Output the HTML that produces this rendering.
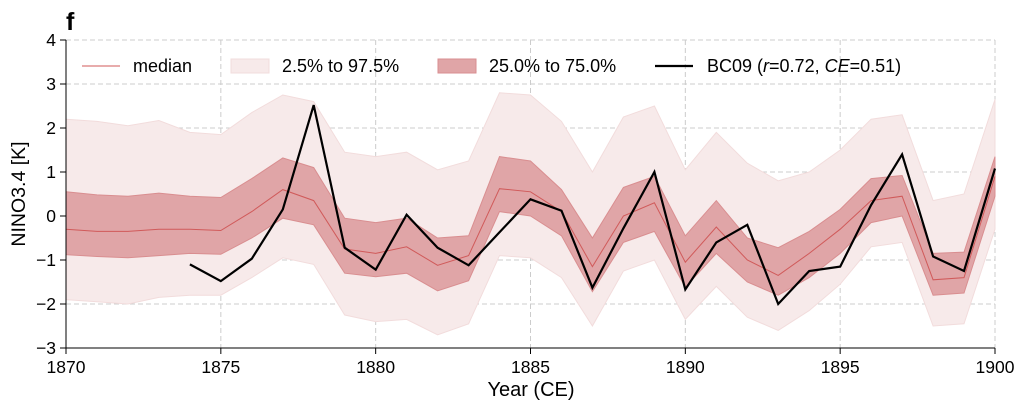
<!DOCTYPE html>
<html><head><meta charset="utf-8"><style>
body{margin:0;background:#fff}
svg{display:block;font-family:"Liberation Sans",Arial,sans-serif}
</style></head><body>
<svg id="s" width="1025" height="409" xmlns="http://www.w3.org/2000/svg"></svg>
<script>
const X=y=>66+(y-1870)*929/30, Y=v=>216-v*44;
const med=[-0.3,-0.35,-0.35,-0.3,-0.3,-0.33,0.1,0.6,0.35,-0.75,-0.85,-0.7,-1.12,-0.9,0.62,0.55,0.1,-1.15,0.0,0.3,-1.05,-0.25,-1.0,-1.35,-0.85,-0.3,0.35,0.45,-1.45,-1.4,0.9];
const q3=[0.55,0.48,0.45,0.52,0.45,0.42,0.85,1.32,1.1,-0.05,-0.15,-0.05,-0.5,-0.45,1.35,1.25,0.6,-0.5,0.65,0.9,-0.45,0.35,-0.5,-0.72,-0.35,0.15,0.85,0.92,-0.85,-0.82,1.35];
const q1=[-0.88,-0.92,-0.95,-0.9,-0.85,-0.87,-0.5,-0.05,-0.2,-1.3,-1.38,-1.3,-1.7,-1.47,0.1,0,-0.45,-1.72,-0.6,-0.35,-1.62,-0.85,-1.5,-1.8,-1.4,-0.85,-0.15,0,-1.8,-1.75,0.45];
const hi=[2.2,2.15,2.05,2.17,1.9,1.85,2.35,2.75,2.6,1.45,1.35,1.45,1.05,1.25,2.8,2.75,2.15,1.0,2.25,2.5,1.05,1.9,1.2,0.8,1.0,1.5,2.2,2.3,0.35,0.5,2.65];
const lo=[-1.9,-1.95,-2.0,-1.85,-1.8,-1.8,-1.4,-0.95,-1.1,-2.25,-2.4,-2.35,-2.7,-2.45,-0.9,-0.95,-1.4,-2.5,-1.25,-1.0,-2.35,-1.6,-2.3,-2.6,-2.15,-1.55,-0.7,-0.6,-2.5,-2.45,-0.3];
const bc=[-1.1,-1.48,-0.97,0.15,2.52,-0.72,-1.22,0.03,-0.72,-1.12,-0.37,0.38,0.12,-1.63,-0.28,1.0,-1.67,-0.6,-0.2,-2.0,-1.25,-1.15,0.25,1.4,-0.92,-1.25,1.08];
const pts=(a,s)=>a.map((v,i)=>X(s+i).toFixed(1)+','+Y(v).toFixed(1));
const band=(u,l)=>'M'+pts(u,1870).join('L')+'L'+pts(l,1870).reverse().join('L')+'Z';
let h='';
for(let v=-3;v<=4;v++)h+=`<line x1="66" x2="995" y1="${Y(v)}" y2="${Y(v)}" stroke="#ccc" stroke-dasharray="5,3"/>`;
for(let y=1870;y<=1900;y+=5)h+=`<line y1="40" y2="348" x1="${X(y)}" x2="${X(y)}" stroke="#ccc" stroke-dasharray="5,3"/>`;
h+=`<path d="${band(hi,lo)}" fill="#f7eaea" stroke="#f2dcdc"/>`;
h+=`<path d="${band(q3,q1)}" fill="#e0a5a7" stroke="#d98e90"/>`;
h+=`<polyline points="${pts(med,1870).join(' ')}" fill="none" stroke="#d05a5a" stroke-width="1"/>`;
h+=`<polyline points="${pts(bc,1874).join(' ')}" fill="none" stroke="#000" stroke-width="2.2"/>`;
h+=`<line x1="66" x2="66" y1="40" y2="348" stroke="#000"/><line x1="66" x2="995" y1="348" y2="348" stroke="#000"/>`;
for(let v=-3;v<=4;v++)h+=`<line x1="60" x2="66" y1="${Y(v)}" y2="${Y(v)}" stroke="#000"/><text x="56" y="${Y(v)+6}" font-size="17.5" text-anchor="end">${v<0?'\u2212'+(-v):v}</text>`;
for(let y=1870;y<=1900;y+=5)h+=`<line y1="348" y2="354" x1="${X(y)}" x2="${X(y)}" stroke="#000"/><text x="${X(y)}" y="373" font-size="17.5" text-anchor="middle">${y}</text>`;
h+=`<text x="531" y="396" font-size="20" text-anchor="middle">Year (CE)</text>`;
h+=`<text transform="translate(25,194) rotate(-90)" font-size="19.5" text-anchor="middle">NINO3.4 [K]</text>`;
h+=`<text x="66" y="30" font-size="25" font-weight="bold">f</text>`;
h+=`<line x1="82" x2="120" y1="66" y2="66" stroke="#d05a5a"/><text x="133" y="72" font-size="18">median</text>`;
h+=`<rect x="231" y="59" width="38" height="14" fill="#f7eaea" stroke="#f2dcdc"/><text x="282" y="72" font-size="18">2.5% to 97.5%</text>`;
h+=`<rect x="438" y="59" width="38" height="14" fill="#e0a5a7" stroke="#d98e90"/><text x="489" y="72" font-size="18">25.0% to 75.0%</text>`;
h+=`<line x1="655" x2="693" y1="66" y2="66" stroke="#000" stroke-width="2.2"/><text x="707" y="72" font-size="18">BC09 (<tspan font-style="italic">r</tspan>=0.72, <tspan font-style="italic">CE</tspan>=0.51)</text>`;
document.getElementById('s').innerHTML=h;
</script>
</body></html>
